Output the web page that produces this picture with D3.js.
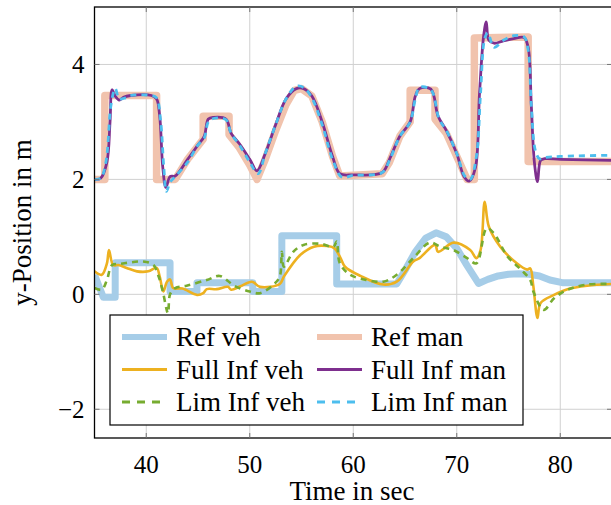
<!DOCTYPE html>
<html>
<head>
<meta charset="utf-8">
<script src="https://cdn.jsdelivr.net/npm/d3@7"></script>
<style>
  body { margin: 0; background: #fff; }
</style>
</head>
<body>
<div id="chart"></div>
<script>
// tick values
var xTicks = [40, 50, 60, 70, 80];
var yTicks = [-2, 0, 2, 4];

// Ref man (step-like reference for the manoeuvre)
var refManT = [35, 36.0, 36.0, 41.0, 41.0, 42.8, 44, 45.5, 45.5, 48.0, 48.0, 49, 50, 50.7, 51.5, 52.5, 53.5, 54.3, 55, 56, 57, 58, 58.7, 62.8, 63.5, 64.5, 65.5, 65.5, 67.9, 67.9, 69, 70, 71, 71.7, 71.7, 76.9, 76.9, 85];
var refManY = [2.0, 2.0, 3.46, 3.46, 2.0, 2.0, 2.35, 2.7, 3.1, 3.1, 2.78, 2.55, 2.25, 2.0, 2.35, 2.85, 3.3, 3.55, 3.58, 3.45, 3.0, 2.4, 2.06, 2.1, 2.3, 2.75, 3.0, 3.55, 3.55, 3.05, 2.8, 2.4, 2.0, 2.0, 4.46, 4.48, 2.31, 2.31];

// Full Inf man
var fullManT = [35, 35.6, 36.2, 36.5, 36.7, 37.0, 37.4, 37.8, 38.5, 40.5, 41.0, 41.3, 41.6, 41.9, 42.3, 42.8, 44, 45, 45.6, 46.0, 46.5, 47.7, 48.2, 49, 50, 50.7, 51.5, 52.5, 53.5, 54.5, 55.2, 56, 57, 58, 58.7, 60, 62.8, 63.5, 64.5, 65.5, 66.0, 66.4, 67.5, 68.2, 69, 70, 70.7, 71.2, 71.8, 72.2, 72.6, 72.85, 73.1, 73.6, 74.5, 75.5, 76.5, 76.9, 77.2, 77.5, 77.8, 78.1, 78.5, 80, 85];
var fullManY = [2.0, 2.02, 2.3, 3.0, 3.56, 3.45, 3.38, 3.43, 3.46, 3.46, 3.4, 3.1, 2.2, 1.86, 2.05, 2.06, 2.35, 2.6, 2.75, 3.05, 3.08, 3.05, 2.8, 2.62, 2.35, 2.15, 2.45, 2.95, 3.4, 3.58, 3.58, 3.45, 3.0, 2.4, 2.1, 2.08, 2.12, 2.35, 2.75, 3.0, 3.45, 3.58, 3.57, 3.1, 2.85, 2.45, 2.05, 1.97, 2.2, 3.5, 4.5, 4.74, 4.42, 4.37, 4.41, 4.45, 4.47, 4.3, 3.3, 2.3, 1.96, 2.33, 2.36, 2.35, 2.33];

// Lim Inf man
var limManT = [35, 35.6, 36.1, 36.6, 37.0, 37.4, 38.0, 38.5, 40.5, 41.0, 41.4, 41.7, 41.95, 42.3, 42.8, 44, 45, 45.6, 46.0, 46.5, 47.7, 48.2, 49, 50, 50.8, 51.5, 52.5, 53.5, 54.5, 55.2, 56, 57, 58, 58.9, 60, 62.8, 63.5, 64.5, 65.5, 66.0, 66.4, 67.5, 68.3, 69, 70, 70.8, 71.3, 71.9, 72.3, 72.7, 73.0, 73.6, 74.5, 75.5, 76.5, 76.9, 77.2, 77.6, 78.0, 78.5, 80, 85];
var limManY = [2.0, 2.02, 2.3, 3.3, 3.58, 3.4, 3.42, 3.46, 3.46, 3.42, 3.0, 2.2, 1.79, 1.95, 2.05, 2.3, 2.6, 2.72, 3.0, 3.06, 3.04, 2.8, 2.6, 2.3, 2.1, 2.45, 2.95, 3.4, 3.62, 3.6, 3.42, 2.95, 2.35, 2.04, 2.07, 2.12, 2.33, 2.75, 3.0, 3.4, 3.6, 3.56, 3.05, 2.85, 2.45, 2.05, 2.0, 2.4, 3.5, 4.45, 4.55, 4.3, 4.42, 4.5, 4.48, 4.25, 3.3, 2.5, 2.36, 2.38, 2.40, 2.42];

// Ref veh
var refVehT = [35, 35.85, 37.0, 37.0, 42.3, 42.3, 44.9, 44.9, 50.3, 50.3, 53.1, 53.1, 58.4, 58.4, 64.2, 65, 66, 67, 68, 69, 70, 71, 72.1, 73, 74, 75, 76, 77, 78, 79, 80.3, 85];
var refVehY = [0.34, -0.05, -0.05, 0.55, 0.55, 0.05, 0.05, 0.2, 0.2, 0.05, 0.05, 1.02, 1.02, 0.18, 0.18, 0.42, 0.74, 0.98, 1.07, 1.0, 0.8, 0.5, 0.19, 0.26, 0.32, 0.35, 0.36, 0.35, 0.32, 0.25, 0.2, 0.2];

// Full Inf veh
var fullVehT = [35, 35.7, 36.2, 36.4, 36.8, 37.3, 38.1, 39.1, 40.2, 41.0, 41.3, 41.65, 42.0, 42.3, 42.6, 43.5, 44.9, 45.5, 45.85, 46.8, 47.9, 48.2, 49.1, 50.2, 51.0, 52.9, 53.3, 54.9, 56.2, 57.5, 58.2, 58.8, 59.2, 60.7, 62.9, 64.2, 65.8, 66.4, 67.9, 68.2, 69.7, 71.3, 71.9, 72.3, 72.7, 73.1, 74.2, 75.8, 76.8, 77.1, 77.4, 77.8, 78.1, 79.4, 80.7, 82.6, 85];
var fullVehY = [0.40, 0.34, 0.54, 0.77, 0.51, 0.51, 0.46, 0.40, 0.40, 0.46, 0.31, 0.05, 0.22, 0.26, 0.11, 0.10, -0.01, 0.02, 0.09, 0.09, 0.13, 0.08, 0.14, 0.22, 0.13, 0.18, 0.31, 0.69, 0.83, 0.84, 0.80, 0.62, 0.48, 0.32, 0.17, 0.22, 0.57, 0.63, 0.86, 0.74, 0.90, 0.77, 0.63, 0.77, 1.61, 1.18, 0.83, 0.54, 0.43, 0.45, 0.14, -0.41, -0.15, -0.01, 0.09, 0.15, 0.18];

// Lim Inf veh
var limVehT = [35, 35.7, 36.2, 36.7, 37.5, 39.7, 40.7, 41.2, 41.6, 42.1, 42.3, 42.8, 43.9, 45.85, 47.1, 48.5, 50.0, 51.0, 52.3, 52.9, 53.1, 53.3, 54.2, 55.2, 56.8, 58.1, 58.4, 58.7, 59.7, 61.3, 62.9, 64.2, 65.8, 67.4, 68.4, 69.7, 71.0, 71.9, 72.9, 73.6, 74.9, 76.2, 77.1, 77.4, 78.4, 79.4, 80.7, 82.6, 85];
var limVehY = [0.11, 0.08, 0.25, 0.51, 0.53, 0.57, 0.51, 0.31, 0.05, -0.33, 0.0, 0.11, 0.15, 0.25, 0.32, 0.15, 0.05, 0.02, 0.17, 0.31, 0.74, 0.48, 0.74, 0.86, 0.88, 0.83, 0.92, 0.54, 0.34, 0.25, 0.22, 0.34, 0.63, 0.90, 0.83, 0.77, 0.63, 0.54, 1.15, 1.06, 0.66, 0.43, 0.25, 0.05, -0.27, -0.07, 0.08, 0.17, 0.18];

var seriesNames = ["Ref veh", "Ref man", "Full Inf veh", "Full Inf man", "Lim Inf veh", "Lim Inf man"];

// pick the first serif face that is really there (Times-like preferred)
function pickFont(list) {
  var ctx = document.createElement("canvas").getContext("2d");
  var probe = "Tiiig WWW fr 0123";
  ctx.font = "40px monospace";
  var base = ctx.measureText(probe).width;
  for (var i = 0; i < list.length; i++) {
    ctx.font = "40px '" + list[i] + "', monospace";
    if (Math.abs(ctx.measureText(probe).width - base) > 0.5) return "'" + list[i] + "'";
  }
  return "serif";
}
var serif = pickFont(["Liberation Serif", "Times New Roman", "Nimbus Roman", "Tinos", "DejaVu Serif"]);

var width = 611, height = 505;
var margin = {top: 7, right: -1, bottom: 67, left: 94.5};
var innerW = width - margin.left - margin.right,
    innerH = height - margin.top - margin.bottom;

var svg = d3.select("#chart").append("svg")
    .attr("width", width)
    .attr("height", height)
    .style("font-family", serif);

var x = d3.scaleLinear().domain([35, 85]).range([margin.left, margin.left + innerW]);
var y = d3.scaleLinear().domain([-2.5, 5]).range([margin.top + innerH, margin.top]);

svg.append("clipPath").attr("id", "clip")
  .append("rect")
    .attr("x", margin.left).attr("y", margin.top)
    .attr("width", innerW).attr("height", innerH);

// grid
var grid = svg.append("g").attr("stroke", "#d0d0d0").attr("stroke-width", 1);
xTicks.forEach(function(t) {
  grid.append("line").attr("x1", x(t)).attr("x2", x(t)).attr("y1", y(-2.5)).attr("y2", y(5));
});
yTicks.forEach(function(t) {
  grid.append("line").attr("x1", x(35)).attr("x2", x(85)).attr("y1", y(t)).attr("y2", y(t));
});

// series
function pts(t, v) { return t.map(function(d, i) { return [d, v[i]]; }); }
var lineLin = d3.line().x(function(d) { return x(d[0]); }).y(function(d) { return y(d[1]); });
var lineSmooth = d3.line().x(function(d) { return x(d[0]); }).y(function(d) { return y(d[1]); })
    .curve(d3.curveCatmullRom.alpha(0.5));

var series = [
  {name: "Ref veh", data: pts(refVehT, refVehY), color: "#a6cde8", w: 7, dash: null, gen: lineLin},
  {name: "Ref man", data: pts(refManT, refManY), color: "#f1c3ad", w: 7.5, dash: null, gen: lineLin},
  {name: "Full Inf veh", data: pts(fullVehT, fullVehY), color: "#edb120", w: 2.6, dash: null, gen: lineSmooth},
  {name: "Full Inf man", data: pts(fullManT, fullManY), color: "#7e2f8e", w: 2.8, dash: null, gen: lineSmooth},
  {name: "Lim Inf veh", data: pts(limVehT, limVehY), color: "#77ac30", w: 2.6, dash: "6,5", gen: lineSmooth},
  {name: "Lim Inf man", data: pts(limManT, limManY), color: "#4dbeee", w: 2.8, dash: "6,5", gen: lineSmooth}
];

var plot = svg.append("g").attr("clip-path", "url(#clip)");
series.forEach(function(s) {
  plot.append("path")
    .datum(s.data)
    .attr("d", s.gen)
    .attr("fill", "none")
    .attr("stroke", s.color)
    .attr("stroke-width", s.w)
    .attr("stroke-dasharray", s.dash)
    .attr("stroke-linejoin", "round");
});

// axes (box with inward ticks)
var ax = svg.append("g").attr("stroke", "#000");
ax.append("rect")
  .attr("x", margin.left).attr("y", margin.top)
  .attr("width", innerW + 5).attr("height", innerH)
  .attr("fill", "none").attr("stroke-width", 1.3);
xTicks.forEach(function(t) {
  ax.append("line").attr("x1", x(t)).attr("x2", x(t)).attr("y1", y(-2.5)).attr("y2", y(-2.5) - 5).attr("stroke", "#777");
  ax.append("line").attr("x1", x(t)).attr("x2", x(t)).attr("y1", y(5)).attr("y2", y(5) + 5).attr("stroke", "#777");
});
yTicks.forEach(function(t) {
  ax.append("line").attr("x1", x(35)).attr("x2", x(35) + 5).attr("y1", y(t)).attr("y2", y(t)).attr("stroke", "#777");
  ax.append("line").attr("x1", x(85)).attr("x2", x(85) - 5).attr("y1", y(t)).attr("y2", y(t)).attr("stroke", "#777");
});

svg.append("g").selectAll("text").data(xTicks).join("text")
  .attr("x", function(d) { return x(d); })
  .attr("y", y(-2.5) + 35)
  .attr("text-anchor", "middle")
  .style("font-size", "25px")
  .text(function(d) { return d; });

svg.append("g").selectAll("text").data(yTicks).join("text")
  .attr("x", margin.left - 10)
  .attr("y", function(d) { return y(d) + 8.5; })
  .attr("text-anchor", "end")
  .style("font-size", "25px")
  .text(function(d) { return d < 0 ? "\u2212" + Math.abs(d) : d; });

svg.append("text")
  .attr("x", 352).attr("y", 500)
  .attr("text-anchor", "middle")
  .style("font-size", "27px")
  .text("Time in sec");

svg.append("text")
  .attr("transform", "translate(31," + (margin.top + innerH / 2) + ") rotate(-90)")
  .attr("text-anchor", "middle")
  .style("font-size", "27px")
  .text("y-Position in m");

// legend
var lg = svg.append("g");
lg.append("rect")
  .attr("x", 110).attr("y", 315).attr("width", 413).attr("height", 110)
  .attr("fill", "#fff").attr("stroke", "#000").attr("stroke-width", 1.2);
series.forEach(function(s, i) {
  var col = i % 2, row = Math.floor(i / 2);
  var lx = col === 0 ? 122 : 317, ly = 337 + row * 32.5;
  lg.append("line")
    .attr("x1", lx).attr("x2", lx + 45).attr("y1", ly).attr("y2", ly)
    .attr("stroke", s.color)
    .attr("stroke-width", s.w > 5 ? 6 : 2.8)
    .attr("stroke-dasharray", s.dash ? "8,7" : null);
  lg.append("text")
    .attr("x", lx + 54).attr("y", ly + 9)
    .style("font-size", "27px")
    .text(s.name);
});
</script>
</body>
</html>
